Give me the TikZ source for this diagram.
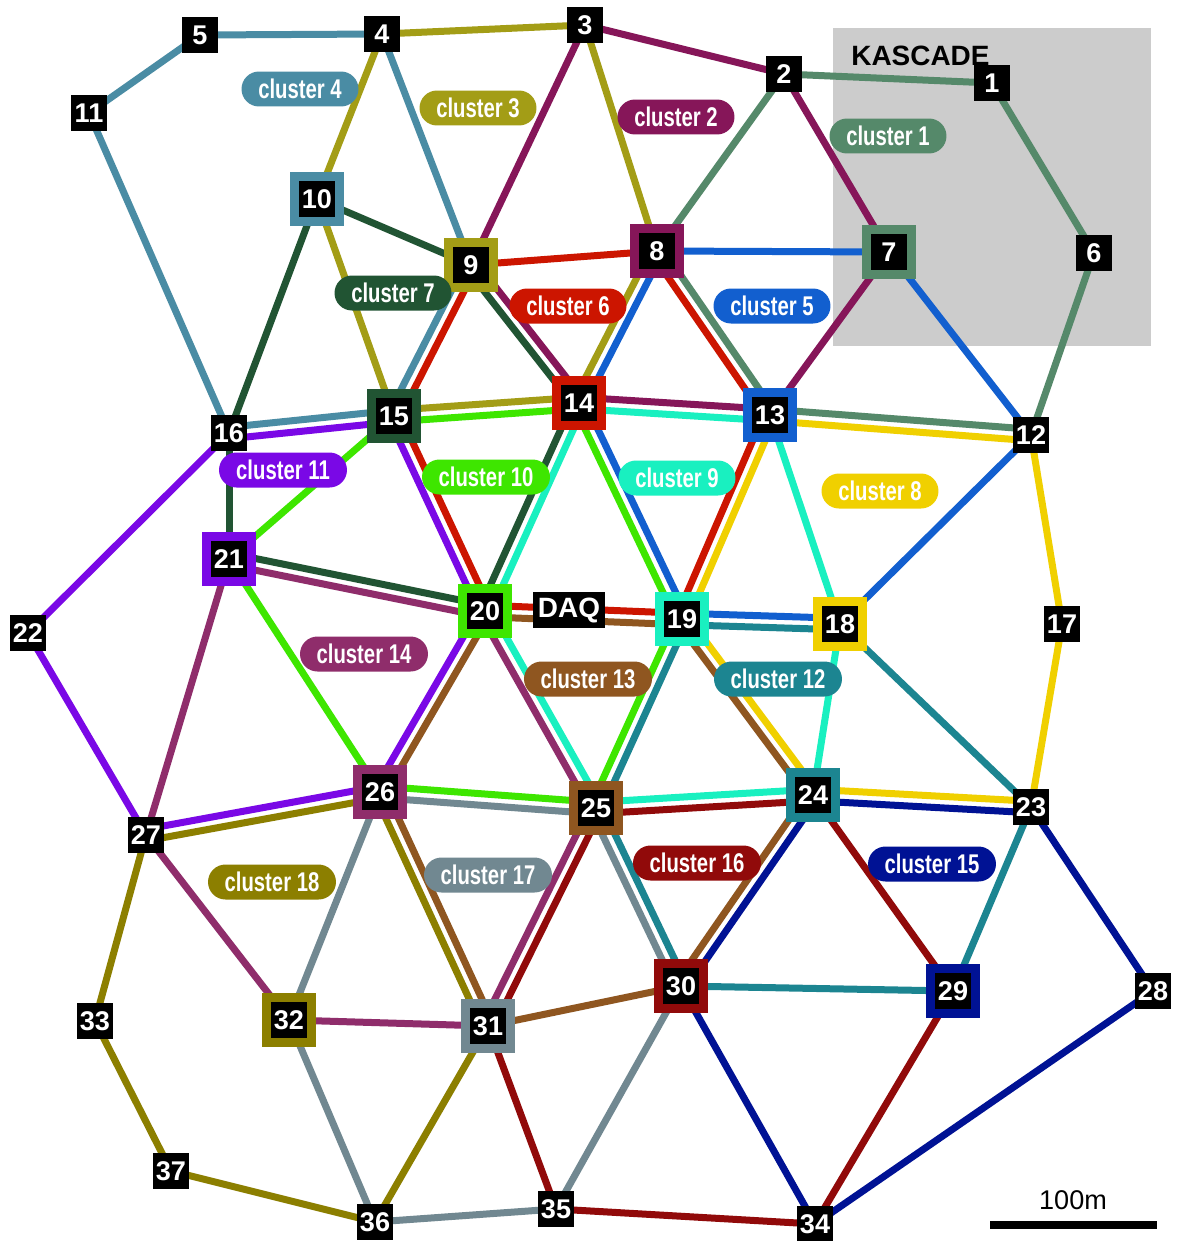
\documentclass[tikz,border=0pt]{standalone}
\usepackage{fontspec}
\setmainfont{Liberation Sans}
\newfontfamily\narrowfont[FakeStretch=0.75]{Liberation Sans}
\usetikzlibrary{calc}
\pgfdeclarelayer{bgrect}
\pgfdeclarelayer{edges}
\pgfsetlayers{bgrect,edges,main}
\definecolor{k1}{HTML}{55896A}
\definecolor{k2}{HTML}{861659}
\definecolor{k3}{HTML}{A39D16}
\definecolor{k4}{HTML}{4A8CA4}
\definecolor{k5}{HTML}{125FCF}
\definecolor{k6}{HTML}{CC1500}
\definecolor{k7}{HTML}{215433}
\definecolor{k8}{HTML}{F0D000}
\definecolor{k9}{HTML}{19F0C0}
\definecolor{k10}{HTML}{3EE600}
\definecolor{k11}{HTML}{7A08E6}
\definecolor{k12}{HTML}{1C8591}
\definecolor{k13}{HTML}{8F5620}
\definecolor{k14}{HTML}{8F2D6B}
\definecolor{k15}{HTML}{001294}
\definecolor{k16}{HTML}{910A0A}
\definecolor{k17}{HTML}{718891}
\definecolor{k18}{HTML}{8C7F00}
\definecolor{kgray}{HTML}{CCCCCC}
\newcommand\numfont{\fontsize{15.4}{16}\selectfont\bfseries}
\newcommand\pillfont{\narrowfont\fontsize{15.4}{16}\selectfont\bfseries}
\newcommand\dedge[4]{%
  \draw[ln=#3] ($(#1.center)!0.115cm!90:(#2.center)$) -- ($(#2.center)!0.115cm!-90:(#1.center)$);
  \draw[ln=#4] ($(#1.center)!0.115cm!-90:(#2.center)$) -- ($(#2.center)!0.115cm!90:(#1.center)$);}
\newcommand\sedge[3]{\draw[ln=#3] (#1.center) -- (#2.center);}
\tikzset{
  st/.style={fill=black, text=white, font=\numfont, minimum size=0.72cm, inner sep=0pt},
  fr/.style={st, draw=#1, line width=0.18cm, minimum size=0.9cm},
  pill/.style={fill=#1, text=white, font=\pillfont, rounded corners=0.35cm, minimum height=0.7cm, minimum width=2.34cm, inner sep=0pt},
  pillw/.style={pill=#1, minimum width=2.56cm},
  ln/.style={draw=#1, line width=0.14cm},
}
\begin{document}
\begin{tikzpicture}[x=0.02cm, y=-0.02cm]
\useasboundingbox (0,0) rectangle (1177,1241);
\begin{pgfonlayer}{bgrect}
  \fill[white] (0,0) rectangle (1177,1241);
  \fill[kgray] (833,28) rectangle (1151,346);
  \node[anchor=base west, inner sep=0pt, font=\fontsize{15.9}{17}\selectfont\bfseries] (kascade) at (851,65) {KASCADE};
\end{pgfonlayer}
% stations
\node[st] (n1) at (992,83) {1};
\node[st] (n2) at (784,74) {2};
\node[st] (n3) at (585,25) {3};
\node[st] (n4) at (382,34) {4};
\node[st] (n5) at (200,35) {5};
\node[st] (n6) at (1094,253) {6};
\node[fr=k1] (n7) at (889,252) {7};
\node[fr=k2] (n8) at (657,251) {8};
\node[fr=k3] (n9) at (471,265) {9};
\node[fr=k4] (n10) at (317,199) {10};
\node[st] (n11) at (89,113) {11};
\node[st] (n12) at (1031,435) {12};
\node[fr=k5] (n13) at (770,415) {13};
\node[fr=k6] (n14) at (579,403) {14};
\node[fr=k7] (n15) at (394,416) {15};
\node[st] (n16) at (229,433) {16};
\node[st] (n17) at (1062,624) {17};
\node[fr=k8] (n18) at (840,624) {18};
\node[fr=k9] (n19) at (682,619) {19};
\node[fr=k10] (n20) at (485,611) {20};
\node[fr=k11] (n21) at (229,559) {21};
\node[st] (n22) at (28,633) {22};
\node[st] (n23) at (1031,807) {23};
\node[fr=k12] (n24) at (813,795) {24};
\node[fr=k13] (n25) at (596,808) {25};
\node[fr=k14] (n26) at (380,792) {26};
\node[st] (n27) at (146,835) {27};
\node[st] (n28) at (1153,991) {28};
\node[fr=k15] (n29) at (953,991) {29};
\node[fr=k16] (n30) at (681,986) {30};
\node[fr=k17] (n31) at (488,1026) {31};
\node[fr=k18] (n32) at (289,1020) {32};
\node[st] (n33) at (95,1021) {33};
\node[st] (n34) at (815,1224) {34};
\node[st] (n35) at (556,1209) {35};
\node[st] (n36) at (375,1222) {36};
\node[st] (n37) at (171,1171) {37};
\node[st, minimum width=1.44cm, font=\fontsize{15.9}{17}\selectfont\bfseries] (daq) at (569,610) {DAQ};
% cluster labels
\node[pill=k1] (l1) at (888,136) {cluster 1};
\node[pill=k2] (l2) at (676,117) {cluster 2};
\node[pill=k3] (l3) at (478,108) {cluster 3};
\node[pill=k4] (l4) at (300,89) {cluster 4};
\node[pill=k5] (l5) at (772,306) {cluster 5};
\node[pill=k6] (l6) at (568,306) {cluster 6};
\node[pill=k7] (l7) at (393,293) {cluster 7};
\node[pill=k8] (l8) at (880,491) {cluster 8};
\node[pill=k9] (l9) at (677,478) {cluster 9};
\node[pillw=k10] (l10) at (486,477) {cluster 10};
\node[pillw=k11] (l11) at (283,470) {cluster 11};
\node[pillw=k12] (l12) at (778,679) {cluster 12};
\node[pillw=k13] (l13) at (588,679) {cluster 13};
\node[pillw=k14] (l14) at (364,654) {cluster 14};
\node[pillw=k15] (l15) at (932,864) {cluster 15};
\node[pillw=k16] (l16) at (697,863) {cluster 16};
\node[pillw=k17] (l17) at (488,875) {cluster 17};
\node[pillw=k18] (l18) at (272,882) {cluster 18};
% scale bar
\coordinate (sbl) at (990,1224.5);
\coordinate (sbr) at (1157,1224.5);
\draw[line width=0.16cm] (sbl) -- (sbr);
\node[anchor=base, inner sep=0pt, font=\fontsize{15.4}{16}\selectfont] (scl) at (1073,1209) {100m};
\begin{pgfonlayer}{edges}
% single edges
\sedge{n2}{n1}{k1}\sedge{n1}{n6}{k1}\sedge{n6}{n12}{k1}\sedge{n8}{n2}{k1}
\sedge{n3}{n2}{k2}\sedge{n2}{n7}{k2}\sedge{n7}{n13}{k2}\sedge{n9}{n3}{k2}
\sedge{n4}{n3}{k3}\sedge{n3}{n8}{k3}\sedge{n10}{n4}{k3}\sedge{n10}{n15}{k3}
\sedge{n5}{n4}{k4}\sedge{n4}{n9}{k4}\sedge{n16}{n11}{k4}\sedge{n11}{n5}{k4}
\sedge{n8}{n7}{k5}\sedge{n7}{n12}{k5}\sedge{n12}{n18}{k5}
\sedge{n9}{n8}{k6}
\sedge{n10}{n9}{k7}\sedge{n21}{n16}{k7}\sedge{n16}{n10}{k7}
\sedge{n12}{n17}{k8}\sedge{n17}{n23}{k8}
\sedge{n13}{n18}{k9}\sedge{n18}{n24}{k9}
\sedge{n21}{n15}{k10}\sedge{n26}{n21}{k10}
\sedge{n27}{n22}{k11}\sedge{n22}{n16}{k11}
\sedge{n18}{n23}{k12}\sedge{n23}{n29}{k12}\sedge{n29}{n30}{k12}
\sedge{n30}{n31}{k13}
\sedge{n31}{n32}{k14}\sedge{n32}{n27}{k14}\sedge{n27}{n21}{k14}
\sedge{n23}{n28}{k15}\sedge{n28}{n34}{k15}\sedge{n34}{n30}{k15}
\sedge{n24}{n29}{k16}\sedge{n29}{n34}{k16}\sedge{n34}{n35}{k16}\sedge{n35}{n31}{k16}
\sedge{n30}{n35}{k17}\sedge{n35}{n36}{k17}\sedge{n36}{n32}{k17}\sedge{n32}{n26}{k17}
\sedge{n31}{n36}{k18}\sedge{n36}{n37}{k18}\sedge{n37}{n33}{k18}\sedge{n33}{n27}{k18}
% shared edges (left colour, right colour)
\dedge{n8}{n13}{k1}{k6}
\dedge{n13}{n12}{k1}{k8}
\dedge{n14}{n13}{k2}{k9}
\dedge{n9}{n14}{k2}{k7}
\dedge{n8}{n14}{k5}{k3}
\dedge{n9}{n15}{k6}{k4}
\dedge{n15}{n14}{k3}{k10}
\dedge{n16}{n15}{k4}{k11}
\dedge{n14}{n20}{k9}{k7}
\dedge{n14}{n19}{k5}{k10}
\dedge{n13}{n19}{k8}{k6}
\dedge{n15}{n20}{k6}{k11}
\dedge{n21}{n20}{k7}{k14}
\dedge{n20}{n19}{k6}{k13}
\dedge{n19}{n18}{k5}{k12}
\dedge{n20}{n26}{k13}{k11}
\dedge{n20}{n25}{k9}{k14}
\dedge{n19}{n25}{k12}{k10}
\dedge{n19}{n24}{k8}{k13}
\dedge{n26}{n25}{k10}{k17}
\dedge{n25}{n24}{k9}{k16}
\dedge{n24}{n23}{k8}{k15}
\dedge{n27}{n26}{k11}{k18}
\dedge{n26}{n31}{k13}{k18}
\dedge{n25}{n31}{k16}{k14}
\dedge{n25}{n30}{k12}{k17}
\dedge{n24}{n30}{k15}{k13}
\end{pgfonlayer}
\end{tikzpicture}
\end{document}
